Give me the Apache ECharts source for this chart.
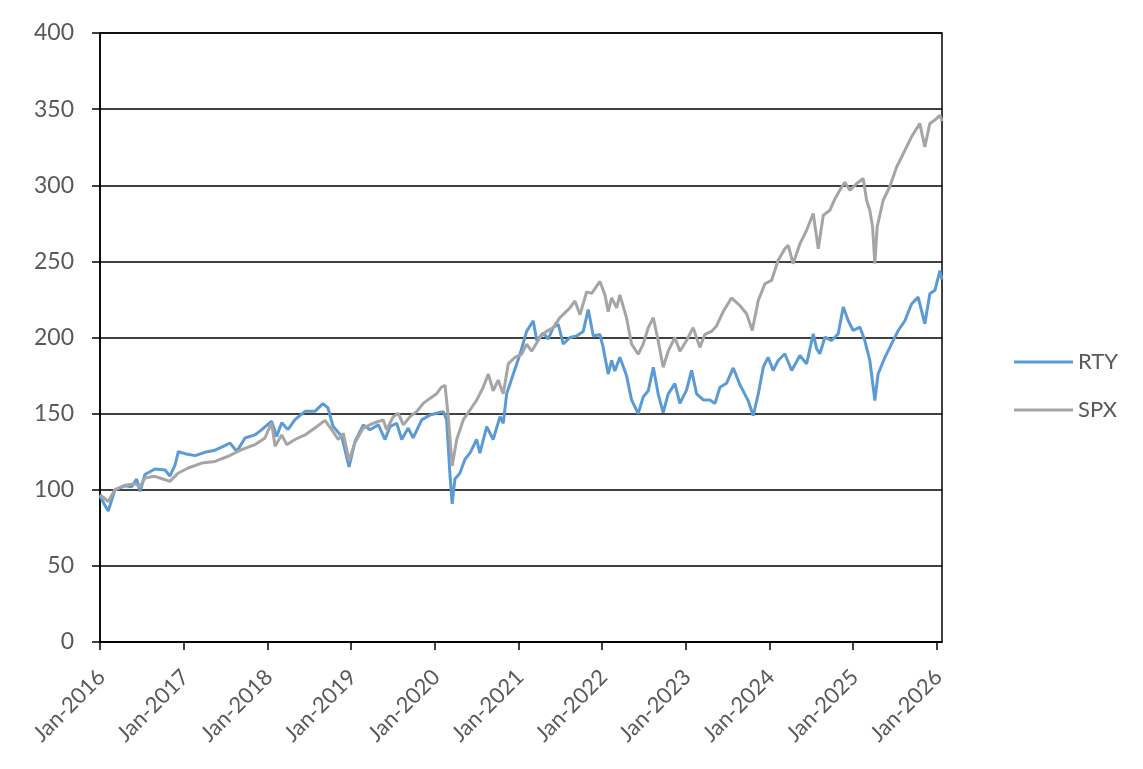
<!doctype html>
<html>
    <head>
        <meta charset="utf-8">
        <style>
            html, body { margin: 0; padding: 0; background: #fff; }
            #main { width: 1143px; height: 769px; }
        </style>
    </head>
    <body>
        <div id="main"></div>
        <script src="https://cdn.jsdelivr.net/npm/echarts@6/dist/echarts.min.js"></script>
        <script>
            // values, [date, index level]
            var rtyPoints = [
                ['2016-01-01', 96], ['2016-01-18', 91], ['2016-02-06', 86], ['2016-03-06', 100], ['2016-04-19', 102.6],
                ['2016-05-18', 102], ['2016-06-09', 107], ['2016-06-24', 99], ['2016-07-15', 110], ['2016-08-28', 113.6],
                ['2016-10-11', 113], ['2016-11-01', 109], ['2016-11-23', 116], ['2016-12-08', 125],
                ['2017-01-06', 123.7], ['2017-02-19', 122.4], ['2017-04-03', 124.6], ['2017-05-17', 126], ['2017-06-29', 129],
                ['2017-07-21', 130.7], ['2017-08-20', 125.2], ['2017-09-25', 134], ['2017-11-07', 136], ['2017-12-07', 139.5],
                ['2018-01-19', 145], ['2018-02-10', 135], ['2018-03-04', 144], ['2018-03-31', 139.5], ['2018-05-01', 146],
                ['2018-06-14', 151.5], ['2018-07-27', 151.5], ['2018-08-31', 156.6], ['2018-09-22', 153.7], ['2018-10-14', 141.7],
                ['2018-11-21', 135], ['2018-12-23', 115],
                ['2019-01-18', 131.8], ['2019-02-23', 142.6], ['2019-03-24', 139.4], ['2019-04-30', 142.6], ['2019-05-29', 133],
                ['2019-06-20', 141.5], ['2019-07-19', 143.7], ['2019-08-10', 133], ['2019-09-07', 140.5], ['2019-09-29', 134],
                ['2019-11-05', 145.9], ['2019-12-11', 149],
                ['2020-01-09', 150.2], ['2020-02-07', 151.3], ['2020-02-22', 146], ['2020-03-07', 111], ['2020-03-17', 90.7],
                ['2020-03-29', 107], ['2020-04-20', 111], ['2020-05-12', 120], ['2020-06-03', 124.2], ['2020-07-02', 133],
                ['2020-07-16', 124], ['2020-08-15', 141.5], ['2020-09-12', 133], ['2020-10-12', 148], ['2020-10-26', 143.7],
                ['2020-11-10', 163], ['2020-12-09', 176],
                ['2021-01-07', 189], ['2021-02-05', 204], ['2021-03-06', 211], ['2021-03-21', 198], ['2021-04-19', 203],
                ['2021-05-10', 199], ['2021-06-01', 206.5], ['2021-06-23', 208.7], ['2021-07-15', 195.7], ['2021-08-13', 200],
                ['2021-09-11', 201], ['2021-10-10', 204], ['2021-11-01', 218.4], ['2021-11-23', 201], ['2021-12-22', 202],
                ['2022-01-05', 193.5], ['2022-01-27', 176], ['2022-02-11', 185], ['2022-02-25', 178], ['2022-03-19', 187],
                ['2022-04-17', 175], ['2022-05-09', 159], ['2022-06-07', 150], ['2022-06-29', 161], ['2022-07-21', 165],
                ['2022-08-12', 180.5], ['2022-09-02', 163], ['2022-09-24', 150.6], ['2022-10-16', 163], ['2022-11-14', 169.7],
                ['2022-12-06', 156.7],
                ['2023-01-04', 165.4], ['2023-01-26', 178.4], ['2023-02-17', 163], ['2023-03-18', 159], ['2023-04-16', 159],
                ['2023-05-08', 156.7], ['2023-05-30', 167.3], ['2023-06-28', 170], ['2023-07-27', 180], ['2023-08-25', 169],
                ['2023-09-30', 158.5], ['2023-10-22', 148.7], ['2023-11-13', 162.9], ['2023-12-05', 180.5], ['2023-12-26', 187],
                ['2024-01-17', 178.3], ['2024-02-08', 184.9], ['2024-03-08', 189.3], ['2024-04-07', 178.3], ['2024-05-13', 188.2],
                ['2024-06-11', 182.7], ['2024-07-10', 202.4], ['2024-07-25', 192.5], ['2024-08-08', 189.3], ['2024-08-30', 200.2],
                ['2024-09-28', 198], ['2024-10-27', 202.4], ['2024-11-18', 220], ['2024-12-10', 211], ['2024-12-31', 204.6],
                ['2025-01-30', 206.8], ['2025-02-20', 198], ['2025-03-14', 184.9], ['2025-04-05', 158.5], ['2025-04-19', 176],
                ['2025-05-19', 187], ['2025-06-17', 195.8], ['2025-07-16', 204.6], ['2025-08-14', 211], ['2025-09-12', 222],
                ['2025-10-11', 226.5], ['2025-11-09', 209], ['2025-12-01', 228.7], ['2025-12-23', 231],
                ['2026-01-14', 244], ['2026-01-23', 238]
            ];

            var spxPoints = [
                ['2016-01-01', 96.7], ['2016-02-06', 92.3], ['2016-03-06', 100], ['2016-04-19', 103], ['2016-06-02', 104],
                ['2016-06-24', 102], ['2016-07-15', 107.7], ['2016-08-28', 108.8], ['2016-10-11', 106.6], ['2016-11-01', 105.5],
                ['2016-12-08', 111],
                ['2017-01-20', 114.3], ['2017-03-20', 117.5], ['2017-05-17', 118.6], ['2017-07-14', 122], ['2017-09-10', 126.3],
                ['2017-11-07', 129.6], ['2017-12-21', 134],
                ['2018-01-19', 144], ['2018-02-03', 128.5], ['2018-03-04', 136], ['2018-03-26', 129.6], ['2018-05-01', 133],
                ['2018-06-14', 136], ['2018-07-27', 140.6], ['2018-09-09', 145.6], ['2018-10-08', 139.5], ['2018-11-06', 133],
                ['2018-11-28', 137], ['2018-12-23', 119],
                ['2019-01-18', 131], ['2019-02-23', 140.5], ['2019-04-08', 143.7], ['2019-05-21', 145.9], ['2019-06-05', 139.4],
                ['2019-07-04', 148], ['2019-07-26', 150.2], ['2019-08-17', 142.6], ['2019-09-15', 148], ['2019-10-14', 151.3],
                ['2019-11-12', 156.7], ['2019-12-11', 160],
                ['2020-01-09', 163], ['2020-01-31', 167.5], ['2020-02-15', 168.6], ['2020-02-29', 148], ['2020-03-17', 115.6],
                ['2020-04-06', 133], ['2020-05-05', 146], ['2020-06-03', 152.4], ['2020-07-02', 158.9], ['2020-07-31', 167.5],
                ['2020-08-22', 176], ['2020-09-12', 165], ['2020-10-04', 172], ['2020-10-26', 163], ['2020-11-17', 182.7],
                ['2020-12-16', 187],
                ['2021-01-14', 189], ['2021-02-05', 195.7], ['2021-02-27', 191], ['2021-04-04', 200], ['2021-05-03', 204],
                ['2021-06-01', 206.5], ['2021-06-30', 213], ['2021-08-13', 219.5], ['2021-09-04', 224], ['2021-09-26', 215],
                ['2021-10-25', 230], ['2021-11-16', 229], ['2021-12-22', 236.8],
                ['2022-01-13', 228], ['2022-01-27', 217], ['2022-02-11', 226], ['2022-03-05', 219.5], ['2022-03-19', 228],
                ['2022-04-17', 213], ['2022-05-09', 195.7], ['2022-06-07', 189], ['2022-06-29', 195.7], ['2022-07-21', 206.5],
                ['2022-08-12', 213], ['2022-09-02', 198], ['2022-09-24', 180.5], ['2022-10-16', 191], ['2022-11-14', 200],
                ['2022-12-06', 191],
                ['2023-01-04', 198], ['2023-02-02', 206.5], ['2023-03-03', 193.5], ['2023-03-25', 202], ['2023-04-23', 204],
                ['2023-05-15', 207.6], ['2023-06-13', 217], ['2023-07-19', 226], ['2023-08-25', 221], ['2023-09-23', 215.6],
                ['2023-10-18', 204.6], ['2023-11-13', 224.3], ['2023-12-12', 235.3],
                ['2024-01-10', 237.5], ['2024-02-08', 250.7], ['2024-03-08', 258.3], ['2024-03-23', 260.5], ['2024-04-13', 248.5],
                ['2024-05-13', 261.6], ['2024-06-11', 270.4], ['2024-07-10', 281.4], ['2024-08-01', 258.3], ['2024-08-23', 280.3],
                ['2024-09-21', 283.6], ['2024-10-13', 291.2], ['2024-11-03', 296.7], ['2024-11-25', 302], ['2024-12-17', 296.7],
                ['2025-01-15', 301], ['2025-02-13', 304.4], ['2025-02-28', 290], ['2025-03-14', 283.6], ['2025-03-26', 272.6],
                ['2025-04-05', 248.5], ['2025-04-15', 272.6], ['2025-05-11', 290], ['2025-06-09', 299], ['2025-07-09', 312],
                ['2025-08-07', 320.8], ['2025-09-12', 331.8], ['2025-10-18', 340.6], ['2025-11-09', 325.2], ['2025-12-01', 340.6],
                ['2025-12-23', 342.8],
                ['2026-01-14', 346], ['2026-01-23', 342]
            ];

            var seriesNames = ['RTY', 'SPX'];
            var seriesColors = ['#5B9BD5', '#A5A5A5'];
            var monthNames = ['Jan', 'Feb', 'Mar', 'Apr', 'May', 'Jun', 'Jul', 'Aug', 'Sep', 'Oct', 'Nov', 'Dec'];
            var startDate = '2016-01-01';
            var endDate = '2026-01-23';

            var DAY = 86400000;
            var base = Date.parse(startDate);

            // x is kept as days since the start so that yearly ticks sit on multiples of the interval
            function toDays(s) {
                return (Date.parse(s) - base) / DAY;
            }
            function toSeries(points) {
                return points.map(function (p) {
                    return [toDays(p[0]), p[1]];
                });
            }

            var chart = echarts.init(document.getElementById('main'));
            var font = 'Lato, "Open Sans", sans-serif';

            chart.setOption({
                animation: false,
                textStyle: { fontFamily: font },
                grid: {
                    left: 100,
                    right: 201,
                    top: 33,
                    bottom: 127,
                    show: true,
                    borderColor: '#000',
                    borderWidth: 1.5
                },
                legend: {
                    orient: 'vertical',
                    left: 1009,
                    top: 346,
                    itemWidth: 59,
                    itemHeight: 3,
                    itemGap: 26,
                    icon: 'rect',
                    data: seriesNames,
                    textStyle: { fontSize: 22, color: '#595959', fontFamily: font }
                },
                xAxis: {
                    type: 'value',
                    min: 0,
                    max: toDays(endDate),
                    interval: 365.25,
                    axisLine: { lineStyle: { color: '#000', width: 1.5 } },
                    axisTick: { show: true, length: 8, inside: false, lineStyle: { color: '#000', width: 1.5 } },
                    splitLine: { show: false },
                    axisLabel: {
                        rotate: 45,
                        margin: 14,
                        lineHeight: 27,
                        fontSize: 22,
                        color: '#595959',
                        fontFamily: font,
                        showMaxLabel: false,
                        formatter: function (v) {
                            var d = new Date(base + (v + 0.5) * DAY);
                            if (d.getUTCDate() > 3 && d.getUTCDate() < 28) return '';
                            var m = d.getUTCMonth();
                            var y = d.getUTCFullYear();
                            if (m === 11) { m = 0; y += 1; }
                            // empty first line pushes the rotated label a little further from the axis
                            return '\n' + monthNames[m] + '-' + y + '  ';
                        }
                    }
                },
                yAxis: {
                    type: 'value',
                    min: 0,
                    max: 400,
                    interval: 50,
                    axisLine: { show: true, lineStyle: { color: '#000', width: 1.5 } },
                    axisTick: { show: true, length: 8, lineStyle: { color: '#000', width: 1.5 } },
                    splitLine: { show: true, lineStyle: { color: '#000', width: 1.5 } },
                    axisLabel: {
                        margin: 26,
                        fontSize: 23,
                        color: '#595959',
                        fontFamily: font
                    }
                },
                series: [{
                    name: seriesNames[0],
                    type: 'line',
                    data: toSeries(rtyPoints),
                    showSymbol: false,
                    color: seriesColors[0],
                    lineStyle: { width: 3, color: seriesColors[0] }
                }, {
                    name: seriesNames[1],
                    type: 'line',
                    data: toSeries(spxPoints),
                    showSymbol: false,
                    color: seriesColors[1],
                    lineStyle: { width: 3, color: seriesColors[1] }
                }]
            });

            window.addEventListener('resize', function () {
                chart.resize();
            });
        </script>
    </body>
</html>
